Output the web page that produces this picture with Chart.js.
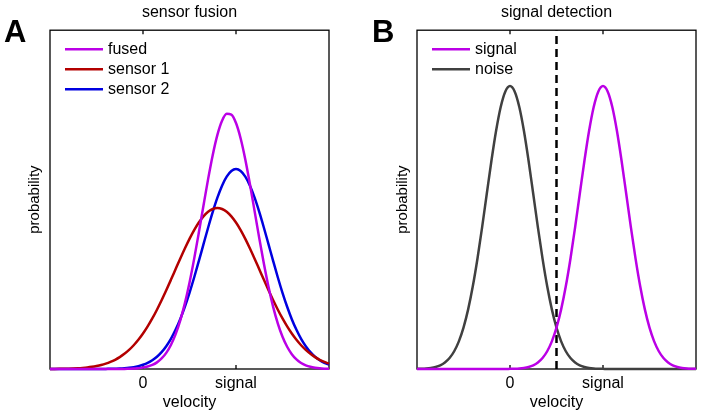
<!DOCTYPE html>
<html>
<head>
<meta charset="utf-8">
<script src="https://cdn.jsdelivr.net/npm/chart.js@4.4.1/dist/chart.umd.min.js"></script>
<style>
  html, body { margin: 0; padding: 0; background: #fff; }
  #wrap { position: relative; width: 701px; height: 415px; }
  canvas { position: absolute; top: 0; }
  #chartA { left: 0; }
  #chartB { left: 350px; }
</style>
</head>
<body>
<div id="wrap">
  <canvas id="chartA" width="350" height="415"></canvas>
  <canvas id="chartB" width="351" height="415"></canvas>
</div>
<script>
// velocity samples (x axis)
const velocity = [-1, -0.95, -0.9, -0.85, -0.8, -0.75, -0.7, -0.65, -0.6, -0.55, -0.5, -0.45, -0.4, -0.35, -0.3, -0.25, -0.2, -0.15, -0.1, -0.05,
  0, 0.05, 0.1, 0.15, 0.2, 0.25, 0.3, 0.35, 0.4, 0.45, 0.5, 0.55, 0.6, 0.65, 0.7, 0.75, 0.8, 0.85, 0.9, 0.95,
  1, 1.05, 1.1, 1.15, 1.2, 1.25, 1.3, 1.35, 1.4, 1.45, 1.5, 1.55, 1.6, 1.65, 1.7, 1.75, 1.8, 1.85, 1.9, 1.95, 2];

// x tick labels
const tickValues = [0, 1];
const tickLabels = ['0', 'signal'];

// panel A : sensor fusion
const fused = [0, 0, 0, 0, 0, 0, 0, 0, 0, 0, 0, 0, 0, 0, 0, 0, 0,
  0.0007, 0.0012, 0.0023, 0.0041, 0.0072, 0.012, 0.0196, 0.031, 0.0476, 0.0709, 0.1022, 0.1429, 0.1938, 0.2549,
  0.325, 0.402, 0.482, 0.5605, 0.6319, 0.691, 0.7326, 0.7531, 0.7508, 0.7259, 0.6804, 0.6185, 0.5452, 0.466,
  0.3862, 0.3104, 0.2419, 0.1828, 0.134, 0.0952, 0.0656, 0.0438, 0.0284, 0.0178, 0.0109, 0.0064, 0.0037, 0.002, 0.0011, 0.0006];
const sensor1 = [0.0002, 0.0003, 0.0005, 0.0008, 0.0011, 0.0016, 0.0023, 0.0033, 0.0046, 0.0064, 0.0088, 0.0118, 0.0158,
  0.0209, 0.0272, 0.0351, 0.0447, 0.0563, 0.0701, 0.0862, 0.1047, 0.1257, 0.1492, 0.175, 0.2029, 0.2324, 0.2631,
  0.2944, 0.3255, 0.3556, 0.384, 0.4098, 0.4322, 0.4504, 0.4639, 0.4722, 0.475, 0.4722, 0.4639, 0.4504, 0.4322,
  0.4098, 0.384, 0.3556, 0.3255, 0.2944, 0.2631, 0.2324, 0.2029, 0.175, 0.1492, 0.1257, 0.1047, 0.0862, 0.0701,
  0.0563, 0.0447, 0.0351, 0.0272, 0.0209, 0.0158];
const sensor2 = [0, 0, 0, 0, 0, 0, 0, 0, 0, 0, 0, 0,
  0.0003, 0.0005, 0.0009, 0.0014, 0.0023, 0.0036, 0.0055, 0.0084, 0.0125, 0.0181, 0.0259, 0.0363, 0.0499, 0.0674,
  0.0891, 0.1156, 0.1471, 0.1837, 0.2249, 0.2701, 0.3183, 0.3678, 0.417, 0.4636, 0.5056, 0.541, 0.5676, 0.5843, 0.59,
  0.5843, 0.5676, 0.541, 0.5056, 0.4636, 0.417, 0.3678, 0.3183, 0.2701, 0.2249, 0.1837, 0.1471, 0.1156, 0.0891,
  0.0674, 0.0499, 0.0363, 0.0259, 0.0181, 0.0125];

// panel B : signal detection
const signal = [0, 0, 0, 0, 0, 0, 0, 0, 0, 0, 0, 0, 0, 0, 0, 0, 0, 0, 0, 0,
  0.0004, 0.0008, 0.0016, 0.0032, 0.0061, 0.011, 0.0193, 0.0324, 0.0524, 0.0816, 0.1222, 0.176, 0.244, 0.3256,
  0.418, 0.5164, 0.6139, 0.7023, 0.7732, 0.8191, 0.835, 0.8191, 0.7732, 0.7023, 0.6139, 0.5164, 0.418, 0.3256,
  0.244, 0.176, 0.1222, 0.0816, 0.0524, 0.0324, 0.0193, 0.011, 0.0061, 0.0032, 0.0016, 0.0008, 0.0004];
const noise = [0.0004, 0.0008, 0.0016, 0.0032, 0.0061, 0.011, 0.0193, 0.0324, 0.0524, 0.0816, 0.1222, 0.176, 0.244,
  0.3256, 0.418, 0.5164, 0.6139, 0.7023, 0.7732, 0.8191, 0.835, 0.8191, 0.7732, 0.7023, 0.6139, 0.5164, 0.418,
  0.3256, 0.244, 0.176, 0.1222, 0.0816, 0.0524, 0.0324, 0.0193, 0.011, 0.0061, 0.0032, 0.0016, 0.0008, 0.0004,
  0, 0, 0, 0, 0, 0, 0, 0, 0, 0, 0, 0, 0, 0, 0, 0, 0, 0, 0, 0];
const criterion = 0.5;

const FONT = '"Liberation Sans", Arial, Helvetica, sans-serif';
Chart.defaults.font.family = FONT;
Chart.defaults.color = '#000';

const toPoints = ys => velocity.map((x, i) => ({ x: x, y: ys[i] }));

function curve(label, ys, color) {
  return {
    label: label,
    data: toPoints(ys),
    borderColor: color,
    borderWidth: 2.5,
    pointRadius: 0,
    cubicInterpolationMode: 'monotone',
    clip: 4
  };
}

// frame, inward ticks, legend inside the axes, panel letter
const framePlugin = {
  id: 'frame',
  beforeDatasetsDraw(chart) {
    const { ctx, chartArea: a } = chart;
    const xs = chart.scales.x;
    ctx.save();
    ctx.strokeStyle = '#000';
    ctx.lineWidth = 1.3;
    ctx.strokeRect(a.left, a.top, a.right - a.left, a.bottom - a.top);
    tickValues.forEach(v => {
      const px = xs.getPixelForValue(v);
      ctx.beginPath();
      ctx.moveTo(px, a.top); ctx.lineTo(px, a.top + 4);
      ctx.moveTo(px, a.bottom); ctx.lineTo(px, a.bottom - 4);
      ctx.stroke();
    });
    ctx.restore();
  },
  afterDatasetsDraw(chart, args, opts) {
    const { ctx, chartArea: a } = chart;
    ctx.save();
    ctx.font = '16px ' + FONT;
    ctx.textBaseline = 'middle';
    let row = 0;
    chart.data.datasets.forEach(ds => {
      if (!ds.label) return;
      const y = a.top + 19 + row * 20;
      ctx.strokeStyle = ds.borderColor;
      ctx.lineWidth = 2.5;
      ctx.beginPath();
      ctx.moveTo(a.left + 15, y);
      ctx.lineTo(a.left + 53, y);
      ctx.stroke();
      ctx.fillStyle = '#000';
      ctx.fillText(ds.label, a.left + 58, y);
      row++;
    });
    ctx.restore();
  },
  afterDraw(chart, args, opts) {
    const ctx = chart.ctx;
    ctx.save();
    ctx.font = 'bold 31px ' + FONT;
    ctx.fillStyle = '#000';
    ctx.textBaseline = 'alphabetic';
    ctx.fillText(opts.letter, opts.letterX, 42);
    ctx.restore();
  }
};

function makeChart(id, cfg) {
  return new Chart(document.getElementById(id), {
    type: 'line',
    data: { datasets: cfg.datasets },
    plugins: [framePlugin],
    options: {
      responsive: false,
      animation: false,
      events: [],
      layout: { padding: { left: 0, right: cfg.padRight, top: 0, bottom: 0 } },
      plugins: {
        legend: { display: false },
        tooltip: { enabled: false },
        title: {
          display: true,
          text: cfg.title,
          fullSize: false,
          color: '#000',
          font: { size: 16, weight: 'normal' },
          padding: { top: 3, bottom: 8 }
        },
        frame: { letter: cfg.letter, letterX: cfg.letterX }
      },
      scales: {
        x: {
          type: 'linear',
          min: -1,
          max: 2,
          afterBuildTicks: s => { s.ticks = tickValues.map(v => ({ value: v })); },
          afterFit: s => { s.height = 46; },
          ticks: {
            autoSkip: false,
            maxRotation: 0,
            padding: 5,
            font: { size: 16 },
            callback: (v, i) => tickLabels[i]
          },
          grid: { display: false, drawTicks: false },
          border: { display: false },
          title: { display: true, text: 'velocity', font: { size: 16 }, padding: { top: 0, bottom: 3 } }
        },
        y: {
          min: 0,
          max: 1,
          afterFit: s => { s.width = cfg.yWidth; },
          ticks: { display: false },
          grid: { display: false, drawTicks: false },
          border: { display: false },
          title: { display: true, text: 'probability', font: { size: 15 }, padding: { top: cfg.yTitlePad, bottom: 0 } }
        }
      }
    }
  });
}

makeChart('chartA', {
  title: 'sensor fusion',
  letter: 'A',
  letterX: 4,
  yWidth: 50,
  yTitlePad: 26,
  padRight: 21,
  datasets: [
    curve('fused', fused, '#bb00e6'),
    curve('sensor 1', sensor1, '#b30000'),
    curve('sensor 2', sensor2, '#0000e0')
  ]
});

makeChart('chartB', {
  title: 'signal detection',
  letter: 'B',
  letterX: 22,
  yWidth: 67,
  yTitlePad: 44,
  padRight: 5,
  datasets: [
    curve('signal', signal, '#bb00e6'),
    curve('noise', noise, '#404040'),
    {
      data: [{ x: criterion, y: 0 }, { x: criterion, y: 1 }],
      borderColor: '#000',
      borderWidth: 2.5,
      borderDash: [8, 5],
      pointRadius: 0
    }
  ]
});
</script>
</body>
</html>
